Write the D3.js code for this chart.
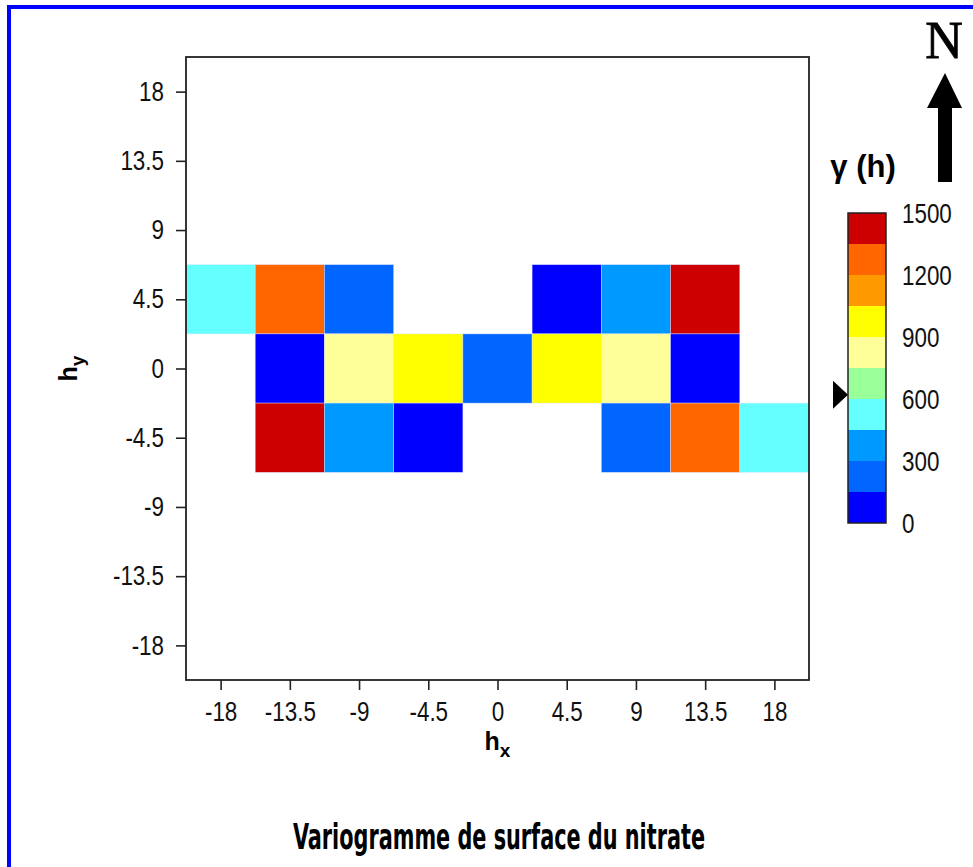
<!DOCTYPE html>
<html lang="fr">
<head>
<meta charset="UTF-8">
<title>Variogramme de surface du nitrate</title>
<script src="https://cdn.jsdelivr.net/npm/d3@7"></script>
<style>
  body { margin: 0; background: #fff; }
  .tick text, .cbLabel {
    font-family: "Liberation Sans", Arial, sans-serif;
    font-size: 27px;
    fill: #111;
  }
  .tick line { stroke: #222; stroke-width: 1.6; }
  .axeTitre { font-family: "Liberation Sans", Arial, sans-serif; font-weight: bold; fill: #000; }
  .titre { font-family: "DejaVu Sans Condensed", "Liberation Sans", sans-serif; font-weight: bold; fill: #000; }
</style>
</head>
<body>
<div id="graf"></div>
<script>
// lags (centres des cellules)
var hx = [-18, -13.5, -9, -4.5, 0, 4.5, 9, 13.5, 18];
var hy = [4.5, 0, -4.5];
// gamma(h) par ligne (null = pas de paire)
var gammaLigne1 = [525, 1275, 225, null, null, 75, 375, 1425, null];   // hy = 4.5
var gammaLigne2 = [null, 75, 825, 975, 225, 975, 825, 75, null];       // hy = 0
var gammaLigne3 = [null, 1425, 375, 75, null, null, 225, 1275, 525];   // hy = -4.5
var tickVals = [-18, -13.5, -9, -4.5, 0, 4.5, 9, 13.5, 18];
// echelle de couleurs
var classes = [150, 300, 450, 600, 750, 900, 1050, 1200, 1350];
var couleurs = ["#0000ff", "#0066ff", "#0099ff", "#66ffff", "#99ff99",
                "#ffff99", "#ffff00", "#ff9900", "#ff6600", "#cc0000"];
var cbTicks = [0, 300, 600, 900, 1200, 1500];
var palier = 620;

var w = 973, h = 867;
var etroit = 0.83;   // police etroite
var svg = d3.select("#graf").append("svg").attr("width", w).attr("height", h);

// cadre bleu
svg.append("rect")
  .attr("x", 9).attr("y", 7).attr("width", 1000).attr("height", 1000)
  .attr("fill", "none").attr("stroke", "#0000ff").attr("stroke-width", 4);

var x = d3.scaleLinear().domain([-20.25, 20.25]).range([186, 809]);
var y = d3.scaleLinear().domain([-20.25, 20.25]).range([680, 57]);
var couleur = d3.scaleThreshold().domain(classes).range(couleurs);

var cellules = [];
[gammaLigne1, gammaLigne2, gammaLigne3].forEach(function(ligne, j){
  ligne.forEach(function(v, i){
    if (v !== null) cellules.push({ x: hx[i], y: hy[j], v: v });
  });
});

var pas = 4.5;
svg.selectAll(".cell")
  .data(cellules)
  .enter()
  .append("rect")
  .attr("class", "cell")
  .attr("x", function(d){ return x(d.x - pas/2); })
  .attr("y", function(d){ return y(d.y + pas/2); })
  .attr("width", function(d){ return x(d.x + pas/2) - x(d.x - pas/2); })
  .attr("height", function(d){ return y(d.y - pas/2) - y(d.y + pas/2); })
  .attr("fill", function(d){ return couleur(d.v); })
  .attr("stroke", "rgba(220,225,255,0.7)")
  .attr("stroke-width", 0.6);

// cadre du graphique
svg.append("rect")
  .attr("x", x(-20.25)).attr("y", y(20.25))
  .attr("width", x(20.25) - x(-20.25)).attr("height", y(-20.25) - y(20.25))
  .attr("fill", "none").attr("stroke", "#222").attr("stroke-width", 1.8);

var fmt = function(d){ return String(d); };
var axeX = svg.append("g")
  .attr("transform", "translate(0," + y(-20.25) + ")")
  .call(d3.axisBottom(x).tickValues(tickVals).tickSize(10).tickPadding(12).tickFormat(fmt));
var axeY = svg.append("g")
  .attr("transform", "translate(" + x(-20.25) + ",0)")
  .call(d3.axisLeft(y).tickValues(tickVals).tickSize(10).tickPadding(12).tickFormat(fmt));
axeX.select(".domain").remove();
axeY.select(".domain").remove();
axeX.selectAll(".tick text").attr("transform", "scale(" + etroit + ",1)");
axeY.selectAll(".tick text")
  .attr("x", -22 / etroit)
  .attr("transform", "scale(" + etroit + ",1)");

// titres des axes
var tx = svg.append("text").attr("class", "axeTitre")
  .attr("x", x(0)).attr("y", 750).attr("text-anchor", "middle").style("font-size", "25px");
tx.append("tspan").text("h");
tx.append("tspan").text("x").attr("dy", 7).style("font-size", "19px");

var ty = svg.append("text").attr("class", "axeTitre")
  .attr("transform", "translate(77," + y(0) + ") rotate(-90)")
  .attr("text-anchor", "middle").style("font-size", "25px");
ty.append("tspan").text("h");
ty.append("tspan").text("y").attr("dy", 7).style("font-size", "19px");

// barre de couleurs
var cb = d3.scaleLinear().domain([0, 1500]).range([523, 213]);
var bornes = [0].concat(classes).concat([1500]);
var cbX = 848, cbW = 38;
svg.selectAll(".cb")
  .data(couleurs)
  .enter()
  .append("rect")
  .attr("class", "cb")
  .attr("x", cbX)
  .attr("y", function(d, i){ return cb(bornes[i + 1]); })
  .attr("width", cbW)
  .attr("height", function(d, i){ return cb(bornes[i]) - cb(bornes[i + 1]); })
  .attr("fill", function(d){ return d; });
svg.append("rect")
  .attr("x", cbX).attr("y", cb(1500)).attr("width", cbW).attr("height", cb(0) - cb(1500))
  .attr("fill", "none").attr("stroke", "#222").attr("stroke-width", 1.5);
svg.selectAll(".cbLabel")
  .data(cbTicks)
  .enter()
  .append("text")
  .attr("class", "cbLabel")
  .attr("transform", function(d){ return "translate(902," + cb(d) + ") scale(" + etroit + ",1)"; })
  .attr("dy", "0.36em")
  .text(function(d){ return d; });

// marqueur du palier
var py = cb(palier);
svg.append("path")
  .attr("d", "M" + (cbX - 15) + "," + (py - 14) + "L" + cbX + "," + py + "L" + (cbX - 15) + "," + (py + 14) + "Z")
  .attr("fill", "#000");

// gamma (h)
svg.append("text").attr("class", "axeTitre")
  .attr("x", 863).attr("y", 177).attr("text-anchor", "middle")
  .style("font-size", "31px")
  .text("\u03b3 (h)");

// fleche du nord
svg.append("text")
  .attr("x", 944).attr("y", 58).attr("text-anchor", "middle")
  .style("font-family", "'Liberation Serif', 'DejaVu Serif', serif")
  .style("font-size", "52px")
  .style("stroke", "#000").style("stroke-width", 0.8)
  .text("N");
svg.append("path")
  .attr("d", "M945,73 L962,108 L952,108 L952,182 L938,182 L938,108 L927,108 Z")
  .attr("fill", "#000");

// titre
svg.append("text").attr("class", "titre")
  .attr("x", 499).attr("y", 849).attr("text-anchor", "middle")
  .attr("textLength", 412).attr("lengthAdjust", "spacingAndGlyphs")
  .style("font-size", "36px")
  .text("Variogramme de surface du nitrate");
</script>
</body>
</html>
